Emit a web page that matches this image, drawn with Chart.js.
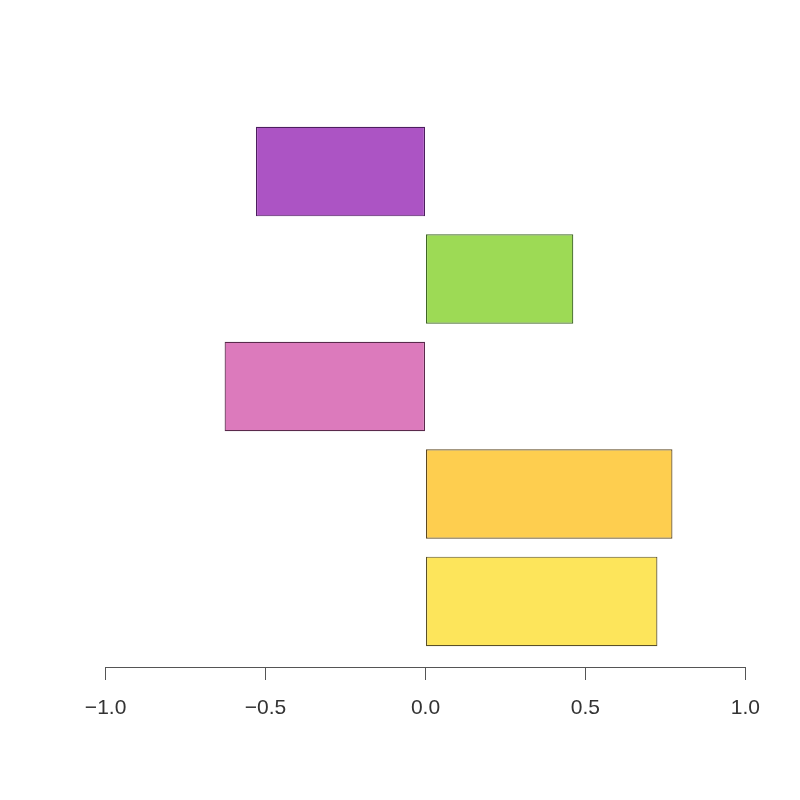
<!DOCTYPE html>
<html>
<head>
<meta charset="utf-8">
<script src="https://cdn.jsdelivr.net/npm/chart.js@4"></script>
<style>
  html, body { margin: 0; padding: 0; background: #fff; }
  #wrap { width: 800px; height: 800px; }
</style>
</head>
<body>
<div id="wrap"><canvas id="chart"></canvas></div>
<script>
// Bars from bottom to top, as R's barplot stacks them
const positions = [0.7, 1.9, 3.1, 4.3, 5.5];
const values = [0.725, 0.772, -0.628, 0.462, -0.530];
const fills = ["#FDE55B", "#FECE4F", "#DC7ABC", "#9DDA55", "#AC54C4"];
const borders = ["#5a5028", "#5c4820", "#5a2a4c", "#3e6624", "#4c1e5e"];
const tickValues = [-1, -0.5, 0, 0.5, 1];

// Draw the axis line only between the first and last tick, like base R
const axisLine = {
  id: "axisLine",
  afterDraw(chart) {
    const x = chart.scales.x;
    const ctx = chart.ctx;
    const y = chart.chartArea.bottom + 0.5;
    ctx.save();
    ctx.strokeStyle = "#555";
    ctx.lineWidth = 1;
    ctx.beginPath();
    ctx.moveTo(x.getPixelForValue(tickValues[0]), y);
    ctx.lineTo(x.getPixelForValue(tickValues[tickValues.length - 1]), y);
    ctx.stroke();
    ctx.restore();
  },
};

new Chart(document.getElementById("chart"), {
  type: "bar",
  data: {
    datasets: [
      {
        data: positions.map((p, i) => ({ x: values[i], y: p })),
        backgroundColor: fills,
        borderColor: borders,
        borderWidth: 1.2,
        borderSkipped: false,
        categoryPercentage: 1,
        barPercentage: 1 / 1.2,
      },
    ],
  },
  options: {
    indexAxis: "y",
    responsive: true,
    maintainAspectRatio: false,
    animation: false,
    layout: { padding: { left: 80, right: 29, top: 106, bottom: 0 } },
    plugins: { legend: { display: false }, tooltip: { enabled: false } },
    scales: {
      y: {
        type: "linear",
        display: false,
        offset: false,
        min: -0.032,
        max: 6.232,
        afterBuildTicks: (s) => { s.ticks = positions.map((v) => ({ value: v })); },
      },
      x: {
        type: "linear",
        min: -1.08,
        max: 1.08,
        afterBuildTicks: (s) => { s.ticks = tickValues.map((v) => ({ value: v })); },
        afterFit: (s) => { s.height = 133; },
        border: { display: false },
        grid: {
          drawOnChartArea: false,
          drawTicks: true,
          tickLength: 13,
          color: "#555",
        },
        ticks: {
          color: "#333",
          padding: 16,
          maxRotation: 0,
          font: { family: "'Liberation Sans', Arial, sans-serif", size: 21 },
          callback: (v) => Number(v).toFixed(1).replace("-", "\u2212"),
        },
      },
    },
  },
  plugins: [axisLine],
});
</script>
</body>
</html>
